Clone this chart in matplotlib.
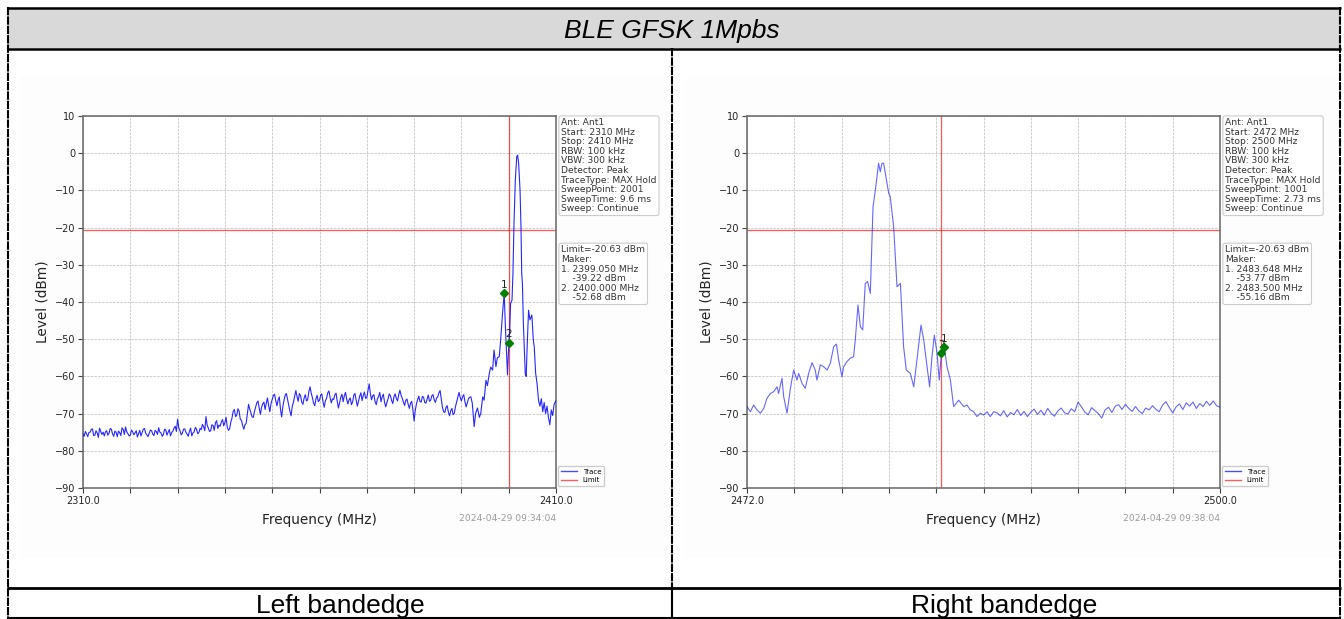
import numpy as np
import matplotlib
matplotlib.use("Agg")
import matplotlib.pyplot as plt
from matplotlib.patches import Rectangle
from matplotlib.lines import Line2D

W, H = 1344, 619

TITLE = "BLE GFSK 1Mpbs"
CAPTIONS = ["Left bandedge", "Right bandedge"]
LIMIT_DBM = -20.63

# ---- left band edge sweep (2310-2410 MHz) ----
L_SPAN = (2310.0, 2410.0)
L_EDGE = 2400.0
L_NOISE_START, L_NOISE_STOP = 2310.0, 2391.75    # 0.25 MHz sweep grid
L_NOISE = [
    -75.5, -76.1, -74.8, -75.4, -76.2, -75.1, -75.0, -74.3, -74.1, -75.9,
    -75.8, -74.6, -75.2, -76.4, -73.9, -74.8, -75.6, -75.0, -76.0, -74.9,
    -74.6, -75.8, -75.3, -74.0, -74.2, -75.5, -76.1, -74.7, -75.0, -76.2,
    -74.7, -75.1, -75.9, -73.8, -74.3, -75.6, -73.6, -74.9, -75.4, -76.0,
    -75.8, -74.4, -74.9, -75.7, -75.2, -74.6, -76.3, -75.4, -74.5, -76.0,
    -75.1, -74.2, -74.0, -75.3, -75.7, -76.2, -75.3, -74.4, -74.6, -75.5,
    -75.9, -74.5, -74.8, -75.6, -73.8, -75.0, -75.2, -76.1, -75.6, -74.2,
    -74.4, -75.8, -75.0, -74.3, -76.0, -75.1, -74.7, -73.9, -73.4, -74.8,
    -71.5, -73.8, -74.6, -75.7, -75.3, -74.2, -74.1, -75.0, -75.5, -76.1,
    -74.8, -73.9, -76.0, -75.2, -74.9, -73.7, -74.2, -75.4, -75.1, -74.0,
    -74.3, -72.9, -73.5, -74.6, -70.8, -73.1, -73.9, -74.8, -74.6, -73.0,
    -73.2, -74.5, -72.5, -71.9, -74.0, -73.1, -73.4, -72.2, -71.6, -73.3,
    -72.4, -71.0, -73.6, -74.5, -74.1, -72.3, -71.2, -69.4, -68.9, -70.8,
    -70.5, -68.7, -69.3, -71.5, -71.8, -73.2, -74.2, -73.0, -72.6, -70.1,
    -67.5, -68.8, -69.8, -70.9, -71.0, -69.4, -68.2, -67.1, -66.6, -68.5,
    -70.2, -68.3, -67.4, -66.9, -68.9, -67.2, -65.8, -67.9, -69.5, -67.3,
    -66.2, -65.1, -64.8, -66.5, -67.9, -66.3, -65.5, -68.8, -70.9, -68.1,
    -66.4, -65.0, -64.6, -66.2, -67.8, -69.4, -70.6, -68.0, -66.9, -65.3,
    -63.8, -65.4, -66.7, -64.6, -65.2, -66.9, -67.5, -65.8, -64.9, -66.6,
    -66.3, -64.1, -62.8, -64.5, -65.7, -67.2, -67.9, -66.0, -65.1, -66.8,
    -66.4, -65.0, -64.7, -66.9, -68.3, -66.5, -65.9, -64.4, -63.9, -65.8,
    -67.1, -66.0, -66.2, -64.9, -64.5, -66.7, -68.5, -67.0, -65.6, -64.8,
    -66.8, -65.2, -64.3, -66.1, -67.4, -66.3, -65.8, -67.6, -66.9, -65.0,
    -64.6, -66.4, -68.0, -66.7, -65.3, -64.4, -66.5, -65.1, -64.2, -65.9,
    -65.7, -63.9, -62.0, -64.6, -66.3, -65.2, -64.9, -66.8, -67.6, -66.0,
    -65.4, -64.3, -66.8, -65.5, -64.8, -66.9, -68.2, -67.0, -66.0, -64.7,
    -65.2, -66.5, -67.3, -65.4, -64.7, -66.0, -66.6, -64.9, -63.7, -65.1,
    -65.9, -67.0, -67.8, -66.4, -66.1, -67.5, -68.6, -67.2, -66.7, -69.0,
    -72.0, -69.1, -67.4, -66.2, -65.3, -66.8, -66.9, -65.4, -65.6, -67.0,
    -67.2, -66.1, -65.0, -66.7, -66.4, -65.2, -64.9, -66.3, -67.0, -65.8,
    -65.5, -64.4, -63.8, -66.1, -68.4, -69.5, -69.7, -68.3, -67.9, -69.6,
    -70.6, -69.2, -68.6, -70.3, -69.9, -68.1, -66.8, -65.4, -64.3, -65.7,
    -66.6, -65.5, -64.9, -66.8, -68.2, -67.1, -66.0, -65.6,
]
L_PEAK_FREQ = [
    2392.0, 2392.3, 2392.7, 2393.0, 2393.4, 2393.8, 2394.1, 2394.5, 2394.8,
    2395.2, 2395.5, 2395.9, 2396.2, 2396.6, 2396.9, 2397.3, 2397.6, 2398.0,
    2398.3, 2398.7, 2399.05, 2399.3, 2399.6, 2399.75, 2399.9, 2400.05,
    2400.2, 2400.4, 2400.7, 2400.9, 2401.1, 2401.4, 2401.7, 2401.9, 2402.1,
    2402.4, 2402.6, 2402.75, 2402.9, 2403.1, 2403.5, 2403.7, 2403.9, 2404.2,
    2404.5, 2404.9, 2405.2, 2405.4, 2405.7, 2406.0, 2406.3, 2406.6, 2406.9,
    2407.2, 2407.5, 2407.8, 2408.1, 2408.4, 2408.7, 2409.0, 2409.3, 2409.6,
    2410.0,
]
L_PEAK_LEVEL = [
    -65.5, -67.2, -73.5, -70.0, -68.5, -71.0, -69.9, -65.5, -66.4,
    -61.0, -62.5, -59.2, -57.5, -58.3, -52.9, -57.4, -55.0, -54.7,
    -50.2, -43.0, -37.7, -46.6, -55.6, -59.6, -54.7, -50.8,
    -48.0, -40.4, -39.5, -32.3, -19.7, -7.2, -0.9, -0.5, -2.7,
    -10.0, -20.0, -32.3, -35.0, -45.7, -59.2, -60.0, -52.0, -42.2,
    -44.8, -43.5, -50.2, -52.0, -59.2, -62.0, -66.4, -68.0, -66.0,
    -69.5, -67.0, -70.0, -68.0, -71.0, -73.0, -69.0, -70.5, -67.5,
    -66.5,
]
L_MARKERS = [("1", 2399.05, -37.7), ("2", 2400.0, -50.9)]
L_INFO = ("Ant: Ant1\nStart: 2310 MHz\nStop: 2410 MHz\nRBW: 100 kHz\n"
          "VBW: 300 kHz\nDetector: Peak\nTraceType: MAX Hold\n"
          "SweepPoint: 2001\nSweepTime: 9.6 ms\nSweep: Continue")
L_MAKER = ("Limit=-20.63 dBm\nMaker:\n1. 2399.050 MHz\n    -39.22 dBm\n"
           "2. 2400.000 MHz\n    -52.68 dBm")
L_STAMP = "2024-04-29 09:34:04"

# ---- right band edge sweep (2472-2500 MHz) ----
R_SPAN = (2472.0, 2500.0)
R_EDGE = 2483.5
R_PEAK_FREQ = [
    2472.00, 2472.20, 2472.39, 2472.59, 2472.79, 2472.99, 2473.18, 2473.38,
    2473.58, 2473.78, 2473.87, 2474.07, 2474.17, 2474.37, 2474.57, 2474.76,
    2474.96, 2475.06, 2475.26, 2475.45, 2475.65, 2475.85, 2476.04, 2476.14,
    2476.34, 2476.54, 2476.74, 2476.93, 2477.13, 2477.29, 2477.43, 2477.62,
    2477.72, 2477.92, 2478.12, 2478.31, 2478.41, 2478.57, 2478.71, 2478.85,
    2479.00, 2479.14, 2479.30, 2479.46, 2479.60, 2479.79, 2479.89, 2479.99,
    2480.09, 2480.19, 2480.39, 2480.48, 2480.68, 2480.88, 2481.08, 2481.27,
    2481.43, 2481.67, 2481.87, 2482.06, 2482.30, 2482.46, 2482.66, 2482.81,
    2482.95, 2483.09, 2483.25, 2483.38, 2483.54, 2483.68, 2483.84, 2484.04,
    2484.23, 2484.53, 2484.83, 2485.02, 2485.22, 2485.42, 2485.61, 2485.81,
    2486.01, 2486.21, 2486.40, 2486.60,
]
R_PEAK_LEVEL = [
    -68.1, -69.5, -67.7, -69.0, -69.9, -68.6, -65.9, -64.6,
    -64.1, -62.8, -64.6, -60.5, -65.4, -69.9, -63.2, -58.3,
    -61.0, -59.2, -61.9, -63.2, -59.2, -56.3, -58.3, -61.0,
    -56.9, -57.4, -58.3, -56.5, -52.0, -51.3, -55.6, -60.1,
    -57.4, -56.0, -55.1, -54.7, -50.2, -40.8, -46.6, -47.5,
    -35.0, -34.5, -37.7, -14.4, -9.9, -2.7, -5.0, -2.7,
    -2.7, -5.4, -10.8, -11.7, -19.7, -35.9, -35.0, -52.0,
    -58.3, -59.2, -62.8, -55.6, -46.2, -50.2, -57.4, -62.8,
    -54.7, -48.9, -53.8, -61.0, -52.0, -52.0, -57.4, -61.0,
    -68.1, -66.4, -68.1, -67.7, -69.0, -69.5, -70.8, -69.9,
    -70.4, -69.5, -70.8, -69.5,
]
R_NOISE_START, R_NOISE_STOP = 2486.8, 2500.0     # 0.2 MHz sweep grid
R_NOISE = [
    -69.8, -70.6, -69.2, -70.9, -69.7, -70.3, -68.9, -70.5, -69.4, -70.8,
    -69.6, -68.8, -70.2, -69.1, -70.4, -68.6, -69.9, -70.7, -69.3, -68.5,
    -69.8, -70.1, -68.7, -69.5, -66.9, -68.2, -69.6, -70.3, -68.4, -69.2,
    -70.0, -71.2, -69.0, -68.3, -69.7, -68.0, -67.6, -68.9, -67.5, -68.6,
    -69.4, -68.1, -69.3, -70.0, -68.5, -69.0, -67.9, -68.8, -69.5, -67.7,
    -66.8, -68.4, -69.8, -68.2, -67.4, -68.9, -67.1, -68.0, -66.9, -68.6,
    -67.3, -68.1, -66.7, -67.8, -66.6, -67.9, -68.3,
]
R_MARKERS = [("1", 2483.648, -52.2), ("2", 2483.5, -53.8)]
R_INFO = ("Ant: Ant1\nStart: 2472 MHz\nStop: 2500 MHz\nRBW: 100 kHz\n"
          "VBW: 300 kHz\nDetector: Peak\nTraceType: MAX Hold\n"
          "SweepPoint: 1001\nSweepTime: 2.73 ms\nSweep: Continue")
R_MAKER = ("Limit=-20.63 dBm\nMaker:\n1. 2483.648 MHz\n    -53.77 dBm\n"
           "2. 2483.500 MHz\n    -55.16 dBm")
R_STAMP = "2024-04-29 09:38:04"


def fig_rect(x0, y0, x1, y1):
    """pixel box (top-left origin) -> figure fraction [l, b, w, h]"""
    return [x0 / W, 1 - y1 / H, (x1 - x0) / W, (y1 - y0) / H]


def render_panel(ax, freq, level, span, edge, markers, info, maker, stamp, alpha):
    ax.plot(freq, level, color="blue", lw=0.8, alpha=alpha, label="Trace", zorder=3)
    ax.axhline(LIMIT_DBM, color="red", lw=0.9, alpha=0.65, label="Limit", zorder=2)
    ax.axvline(edge, color="red", lw=0.9, alpha=0.65, zorder=2)
    for lab, f, v in markers:
        ax.plot(f, v, "D", color="green", ms=4.2, zorder=4)
        ax.annotate(lab, (f, v), xytext=(0, 2.5), textcoords="offset points",
                    ha="center", va="bottom", fontsize=7.5, color="#222")

    ax.set_xlim(*span)
    ax.set_ylim(-90, 10)
    ax.set_yticks(np.arange(-90, 11, 10))
    xt = np.linspace(span[0], span[1], 11)
    ax.set_xticks(xt)
    ax.set_xticklabels([f"{span[0]:.1f}"] + [""] * 9 + [f"{span[1]:.1f}"])
    ax.tick_params(labelsize=7, length=3.5, width=0.8, color="#444",
                   labelcolor="#222", pad=2)
    ax.grid(True, ls="--", lw=0.5, color="#bbbbbb")
    for s in ax.spines.values():
        s.set_color("#666666")
        s.set_linewidth(1.1)
    ax.set_xlabel("Frequency (MHz)", fontsize=9.8, color="#222", labelpad=5.5)
    ax.set_ylabel("Level (dBm)", fontsize=9.8, color="#222", labelpad=3.8)

    box = dict(boxstyle="round,pad=0.25", fc="white", ec="#cccccc", lw=0.8)
    ax.text(1.011, 0.994, info, transform=ax.transAxes, ha="left", va="top",
            fontsize=6.6, color="#333", linespacing=1.08, bbox=box)
    ax.text(1.011, 0.652, maker, transform=ax.transAxes, ha="left", va="top",
            fontsize=6.6, color="#333", linespacing=1.08, bbox=box)
    ax.text(1.0, -0.083, stamp, transform=ax.transAxes, ha="right", va="center",
            fontsize=6.6, color="#9a9a9a")
    handles = [Line2D([], [], color="blue", lw=1, alpha=0.7),
               Line2D([], [], color="red", lw=1, alpha=0.65)]
    ax.legend(handles, ["Trace", "Limit"], loc="lower left",
              bbox_to_anchor=(1.0, 0.0), fontsize=5, borderaxespad=0.25,
              handlelength=2.4, handletextpad=0.8, labelspacing=0.4,
              framealpha=1, edgecolor="#cccccc", fancybox=True)


def main():
    fig = plt.figure(figsize=(W / 100, H / 100), dpi=100)
    fig.patch.set_facecolor("white")

    # table frame drawn in pixel coords
    bg = fig.add_axes([0, 0, 1, 1])
    bg.set_xlim(0, W)
    bg.set_ylim(H, 0)
    bg.axis("off")
    bg.set_zorder(-1)
    bg.add_patch(Rectangle((8, 8), 1331, 40, fc="#d9d9d9", ec="none"))
    bg.add_patch(Rectangle((20, 77), 648, 481, fc="#fdfdfd", ec="none"))
    bg.add_patch(Rectangle((685, 77), 651, 481, fc="#fdfdfd", ec="none"))
    solid = dict(color="black", solid_capstyle="butt")
    dash = dict(color="black", ls=(0, (4, 0.5)), lw=1.5)
    bg.plot([7, 1341], [7.5, 7.5], lw=1.8, **solid)
    bg.plot([7, 1341], [48.5, 48.5], lw=1.8, **solid)
    bg.plot([7, 1341], [587.5, 587.5], lw=2.0, **solid)
    bg.plot([7, 1341], [617.5, 617.5], lw=1.5, **solid)
    bg.plot([8, 8], [7, 619], **dash)
    bg.plot([1339.5, 1339.5], [7, 619], **dash)
    bg.plot([671.5, 671.5], [48, 588], **dash)
    bg.plot([671.5, 671.5], [588, 618], lw=1.5, **solid)
    bg.text(672, 38.3, TITLE, ha="center", va="baseline", fontsize=19,
            style="italic", family="Liberation Sans")
    bg.text(340, 612.5, CAPTIONS[0], ha="center", va="baseline", fontsize=19,
            family="Liberation Sans")
    bg.text(1004, 612.5, CAPTIONS[1], ha="center", va="baseline", fontsize=19,
            family="Liberation Sans")

    # left panel
    axl = fig.add_axes(fig_rect(83, 116, 556, 488))
    lf = np.concatenate([np.linspace(L_NOISE_START, L_NOISE_STOP, len(L_NOISE)),
                         L_PEAK_FREQ])
    lv = np.concatenate([L_NOISE, L_PEAK_LEVEL])
    render_panel(axl, lf, lv, L_SPAN, L_EDGE, L_MARKERS, L_INFO, L_MAKER,
                 L_STAMP, 0.85)

    # right panel
    axr = fig.add_axes(fig_rect(747, 116, 1220, 488))
    rf = np.concatenate([R_PEAK_FREQ,
                         np.linspace(R_NOISE_START, R_NOISE_STOP, len(R_NOISE))])
    rv = np.concatenate([R_PEAK_LEVEL, R_NOISE])
    render_panel(axr, rf, rv, R_SPAN, R_EDGE, R_MARKERS, R_INFO, R_MAKER,
                 R_STAMP, 0.6)

    fig.savefig("out.png", dpi=100)
    plt.close(fig)


if __name__ == "__main__":
    main()
